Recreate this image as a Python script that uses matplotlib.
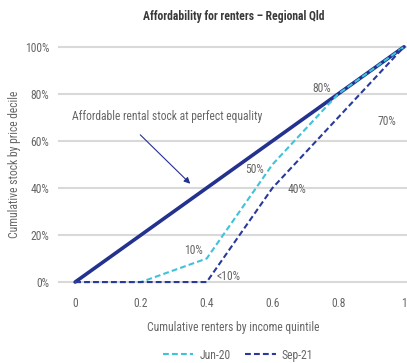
import matplotlib
matplotlib.use("Agg")
import matplotlib.pyplot as plt

# Data: cumulative share of renters (income quintiles) vs cumulative affordable stock
quintiles = [0, 0.2, 0.4, 0.6, 0.8, 1.0]
equality = [0, 0.2, 0.4, 0.6, 0.8, 1.0]
jun20 = [0, 0, 0.10, 0.50, 0.80, 1.0]
sep21 = [0, 0, 0.0, 0.40, 0.70, 1.0]
xtick_labels = ["0", "0.2", "0.4", "0.6", "0.8", "1"]
ytick_values = [0, 0.2, 0.4, 0.6, 0.8, 1.0]
ytick_labels = ["0%", "20%", "40%", "60%", "80%", "100%"]

plt.rcParams["font.family"] = ["Roboto Condensed", "DejaVu Sans"]
plt.rcParams["font.weight"] = 400

TEXT = "#666666"
NAVY = "#23318f"
CYAN = "#3ec3d8"
DARK = "#2a3a9c"
FS = 8.4

fig = plt.figure(figsize=(4.07, 3.63), dpi=100)
ax = fig.add_axes([0.145, 0.223, 0.855, 0.648])
ax.set_xlim(-0.049, 1.009)
ax.set_ylim(0, 1)

for y in ytick_values:
    ax.axhline(y, color="#d9d9d9", lw=1.5, zorder=0, clip_on=False)

ax.plot(quintiles, equality, color=NAVY, lw=2.6, solid_capstyle="round", clip_on=False, zorder=3)
ax.plot(quintiles, jun20, color=CYAN, lw=1.5, ls=(0, (2.8, 1.5)), clip_on=False, zorder=4, label="Jun-20")
ax.plot(quintiles, sep21, color=DARK, lw=1.5, ls=(0, (2.8, 1.5)), clip_on=False, zorder=4, label="Sep-21")

for s in ax.spines.values():
    s.set_visible(False)
ax.set_xticks(quintiles)
ax.set_xticklabels(xtick_labels)
ax.set_yticks(ytick_values)
ax.set_yticklabels(ytick_labels)
ax.tick_params(length=0, labelsize=FS, colors=TEXT, pad=7)
ax.tick_params(axis="x", pad=11)

ax.set_xlabel("Cumulative renters by income quintile", fontsize=FS, color=TEXT, labelpad=8)
fig.text(15 / 407, 0.548, "Cumulative stock by price decile", rotation=90, ha="center", va="center",
         fontsize=FS, color=TEXT)
fig.text(0.574, 0.955, "Affordability for renters \u2013 Regional Qld", ha="center", va="center",
         fontsize=FS, fontweight="bold", color="#3a3a3a")

# Value callouts
callouts = [
    (0.8, 0.8, "80%", -5, 4),
    (0.8, 0.7, "70%", 28, -3),
    (0.6, 0.5, "50%", -6, -4),
    (0.6, 0.4, "40%", 11, -1),
    (0.4, 0.1, "10%", -3, 6),
    (0.4, 0.0, "<10%", 7, 4),
]
for x, y, t, dx, dy in callouts:
    ax.annotate(t, (x, y), xytext=(dx, dy), textcoords="offset points",
                fontsize=FS, color=TEXT, ha="left" if dx > 0 else "right", va="center")

ax.text(-0.01, 0.705, "Affordable rental stock at perfect equality", fontsize=FS, color=TEXT,
        ha="left", va="center")
ax.annotate("", xy=(0.35, 0.418), xytext=(0.198, 0.626),
            arrowprops=dict(arrowstyle="-|>", color=NAVY, lw=0.8, shrinkA=0, shrinkB=0,
                            mutation_scale=9))

leg = fig.legend(loc="center", bbox_to_anchor=(0.585, 0.022), ncol=2, frameon=False,
                 fontsize=FS, handlelength=2.6, columnspacing=1.3, handletextpad=0.5)
for t in leg.get_texts():
    t.set_color(TEXT)

fig.savefig("out.png", dpi=100, facecolor="white")
